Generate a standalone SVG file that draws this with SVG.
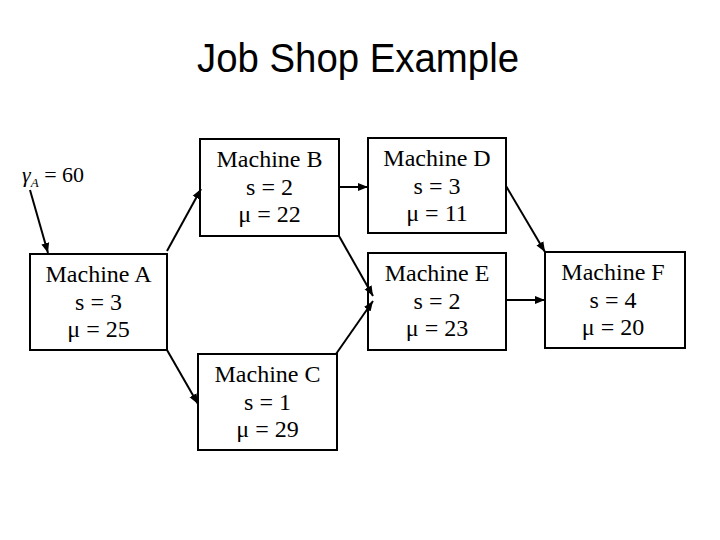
<svg xmlns="http://www.w3.org/2000/svg" width="720" height="540" viewBox="0 0 720 540">
<defs>
<marker id="ah" viewBox="0 0 10 10" refX="10" refY="5" markerWidth="5" markerHeight="5" orient="auto" markerUnits="strokeWidth">
<path d="M0,1 L10,5 L0,9 z" fill="#000"/>
</marker>
<style>
.box{fill:#fff;stroke:#000;stroke-width:2}
.t{font-family:"Liberation Serif","Times New Roman",serif;font-size:24px;text-anchor:middle;fill:#000}
.c{stroke:#000;stroke-width:2;fill:none;marker-end:url(#ah)}
</style>
</defs>
<rect width="720" height="540" fill="#fff"/>
<text x="358" y="72" font-family="'Liberation Sans',Arial,sans-serif" font-size="40" text-anchor="middle" textLength="322" lengthAdjust="spacingAndGlyphs">Job Shop Example</text>
<g id="gamma">
<text x="22" y="182" font-family="'Liberation Serif','Times New Roman',serif" font-size="22"><tspan font-style="italic">γ</tspan><tspan font-style="italic" font-size="13" dy="5">A</tspan><tspan dy="-5"> = 60</tspan></text>
</g>
<g id="machineA">
<rect class="box" x="30" y="254" width="137" height="96"/>
<text class="t" x="98.5" y="282">Machine A</text>
<text class="t" x="98.5" y="310">s = 3</text>
<text class="t" x="98.5" y="337">μ = 25</text>
</g>
<g id="machineB">
<rect class="box" x="200" y="139" width="139" height="97"/>
<text class="t" x="269.5" y="167">Machine B</text>
<text class="t" x="269.5" y="195">s = 2</text>
<text class="t" x="269.5" y="222">μ = 22</text>
</g>
<g id="machineC">
<rect class="box" x="198" y="354" width="139" height="96"/>
<text class="t" x="267.5" y="382">Machine C</text>
<text class="t" x="267.5" y="410">s = 1</text>
<text class="t" x="267.5" y="437">μ = 29</text>
</g>
<g id="machineD">
<rect class="box" x="368" y="138" width="138" height="95"/>
<text class="t" x="437" y="166">Machine D</text>
<text class="t" x="437" y="194">s = 3</text>
<text class="t" x="437" y="221">μ = 11</text>
</g>
<g id="machineE">
<rect class="box" x="368" y="253" width="138" height="97"/>
<text class="t" x="437" y="281">Machine E</text>
<text class="t" x="437" y="309">s = 2</text>
<text class="t" x="437" y="336">μ = 23</text>
</g>
<g id="machineF">
<rect class="box" x="545" y="252" width="140" height="96"/>
<text class="t" x="613" y="280">Machine F</text>
<text class="t" x="613" y="308">s = 4</text>
<text class="t" x="613" y="335">μ = 20</text>
</g>
<g id="connectors">
<line class="c" x1="30" y1="190" x2="48" y2="253"/>
<line class="c" x1="167" y1="251" x2="201" y2="189"/>
<line class="c" x1="167" y1="350" x2="198" y2="404"/>
<line class="c" x1="339" y1="187" x2="368" y2="187"/>
<line class="c" x1="339" y1="236" x2="373" y2="296"/>
<line class="c" x1="336" y1="354" x2="373" y2="301"/>
<line class="c" x1="506" y1="186" x2="545" y2="252"/>
<line class="c" x1="506" y1="300" x2="545" y2="300"/>
</g>
</svg>
